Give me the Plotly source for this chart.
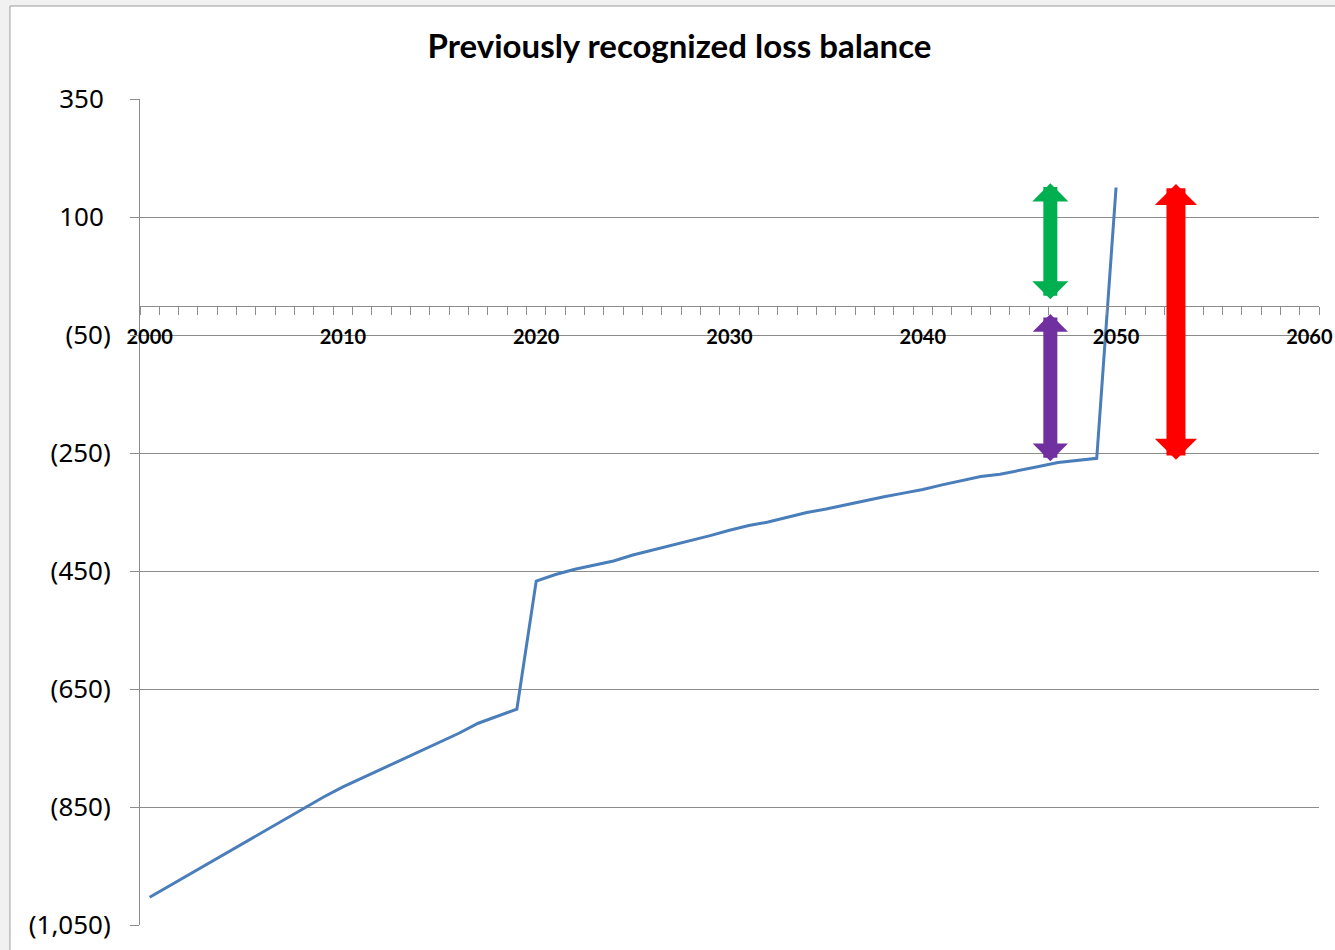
import plotly.graph_objects as go

# ---- data ----
years = list(range(2000, 2051))
balance = [-1003, -984, -965, -947, -928, -909, -890, -871, -852, -833,
           -816, -801, -786, -771, -756, -740, -725, -708, -696, -684,
           -467, -456, -447, -440, -433, -423, -415, -407, -399, -390,
           -381, -373, -367, -359, -351, -345, -338, -330, -324, -318,
           -312, -304, -297, -290, -286, -280, -273, -266, -262, -259,
           200]

y_tickvals = [-1050, -850, -650, -450, -250, -50, 150, 350]
y_ticktext = ["(1,050)", "(850)", "(650)", "(450)", "(250)", "(50)", "100\u2008", "350\u2008"]
x_tickvals = [2000, 2010, 2020, 2030, 2040, 2050, 2060]
x_ticktext = ["2000", "2010", "2020", "2030", "2040", "2050", "2060"]

# double-headed arrows: x position, y start, y end, colour, shaft width
arrow_x = [2046.6, 2046.6, 2053.1]
arrow_y0 = [8, -12, -264]
arrow_y1 = [207, -264, 206]
arrow_colors = ["#00B050", "#7030A0", "#FF0000"]
arrow_widths = [14, 14, 19]
arrow_sizes = [0.43, 0.42, 0.37]

fig = go.Figure()
fig.add_trace(go.Scatter(x=years, y=balance, mode="lines",
                         line=dict(color="#4A7EBB", width=3),
                         showlegend=False, hoverinfo="x+y"))

for xa, ya0, ya1, c, w, s in zip(arrow_x, arrow_y0, arrow_y1, arrow_colors, arrow_widths, arrow_sizes):
    fig.add_annotation(x=xa, y=ya1, ax=xa, ay=ya0, xref="x", yref="y",
                       axref="x", ayref="y", text="", showarrow=True,
                       arrowhead=1, startarrowhead=1, arrowside="end+start",
                       arrowsize=s, startarrowsize=s, arrowwidth=w,
                       arrowcolor=c)

# chart frame
fig.add_shape(type="rect", xref="paper", yref="paper",
              x0=-0.1103, x1=1.03, y0=-0.06, y1=1.1126,
              line=dict(color="#9a9a9a", width=1), fillcolor="white",
              layer="below")

grid = "#8c8c8c"
fig.update_layout(
    width=1335, height=950,
    margin=dict(l=140, r=16, t=99, b=25),
    paper_bgcolor="#f1f1f1", plot_bgcolor="rgba(0,0,0,0)",
    title=dict(text="<b>Previously recognized loss balance</b>",
               x=0.509, xanchor="center", y=1 - 46 / 950, yanchor="middle",
               font=dict(family="Lato", size=33, color="black")),
    xaxis=dict(range=[1999.5, 2060.5], anchor="free", position=0.75,
               automargin=False,
               tickvals=x_tickvals, ticktext=x_ticktext,
               ticks="outside", ticklen=8, tickcolor="rgba(0,0,0,0)",
               ticklabelstandoff=5,
               minor=dict(tick0=1999.5, dtick=1, ticks="outside", ticklen=8,
                          tickcolor=grid, showgrid=False),
               showline=True, linecolor=grid, linewidth=1,
               showgrid=False, zeroline=False,
               tickfont=dict(family="Lato", size=20, color="black", weight="bold")),
    yaxis=dict(range=[-1050, 350], tickvals=y_tickvals, ticktext=y_ticktext,
               automargin=False,
               ticks="outside", ticklen=9, tickcolor=grid,
               ticklabelstandoff=14,
               showline=True, linecolor=grid, linewidth=1,
               showgrid=True, gridcolor=grid, gridwidth=1, zeroline=False,
               tickfont=dict(family="Noto Sans", size=26, color="black")),
)

fig.write_html("out.html")
